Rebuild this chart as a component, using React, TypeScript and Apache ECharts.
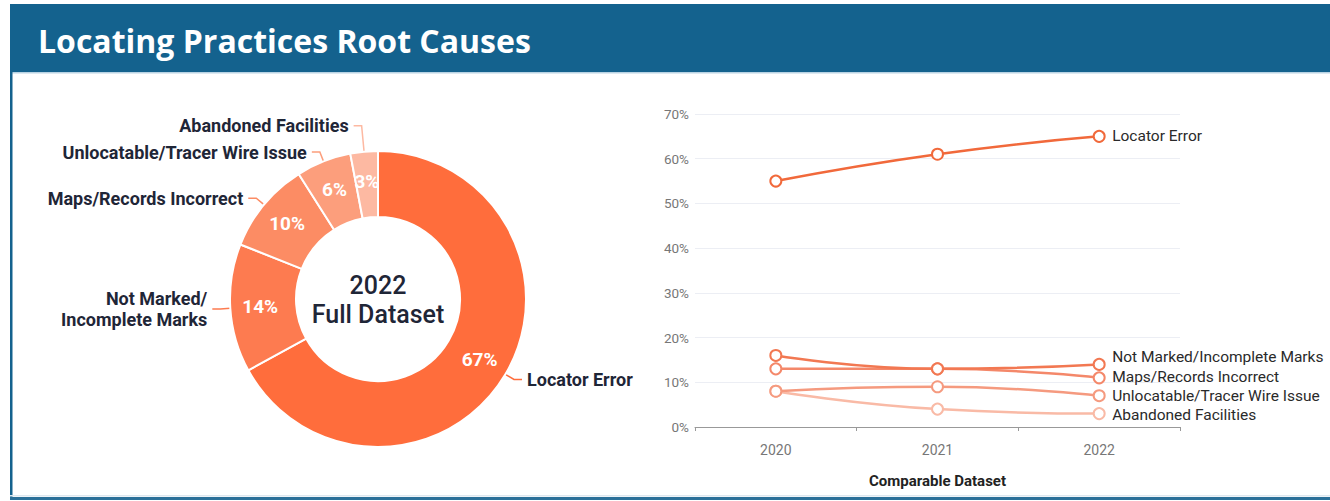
import React, { useEffect, useRef } from "react";
import * as echarts from "echarts";

const pieCategories = [
  "Locator Error",
  "Not Marked/\nIncomplete Marks",
  "Maps/Records Incorrect",
  "Unlocatable/Tracer Wire Issue",
  "Abandoned Facilities",
];
const pieValues = [67, 14, 10, 6, 3];
const pieColors = ["#ff6d3c", "#fd7b50", "#fc8c64", "#fc9e7c", "#fdb9a2"];

const years = ["2020", "2021", "2022"];
const lineNames = [
  "Locator Error",
  "Not Marked/Incomplete Marks",
  "Maps/Records Incorrect",
  "Unlocatable/Tracer Wire Issue",
  "Abandoned Facilities",
];
const locatorError = [55, 61, 65];
const notMarked = [16, 13, 14];
const mapsRecords = [13, 13, 11];
const unlocatable = [8, 9, 7];
const abandoned = [8, 4, 3];
const lineValues = [locatorError, notMarked, mapsRecords, unlocatable, abandoned];
const lineColors = ["#f1693b", "#f27852", "#f4886a", "#f59a7f", "#f9baa6"];
const endLabelShift = [0, -7, -1, 0, 1];

const title = "Locating Practices Root Causes";
const centerText = ["2022", "Full Dataset"];
const xAxisName = "Comparable Dataset";

const BLUE = "#14628e";
const DARK = "#1f2637";

export default function App() {
  const ref = useRef<HTMLDivElement>(null);
  useEffect(() => {
    if (!ref.current) return;
    const chart = echarts.init(ref.current, undefined, { renderer: "svg" });
    const labelLineLen: Record<number, number> = { 4: 26 };
    const pieData = pieCategories.map((name, i) => ({
      name,
      value: pieValues[i],
      itemStyle: { color: pieColors[i] },
      labelLine: { length: labelLineLen[i] ?? 10 },
    }));
    chart.setOption({
      animation: false,
      graphic: [
        { type: "rect", shape: { x: 10, y: 4, width: 1320, height: 68 }, style: { fill: BLUE }, silent: true },
        { type: "rect", shape: { x: 10, y: 72, width: 1320, height: 1.5 }, style: { fill: "#b9d3e3" }, silent: true },
        { type: "rect", shape: { x: 10, y: 4, width: 2.5, height: 496 }, style: { fill: BLUE }, silent: true },
        { type: "rect", shape: { x: 10, y: 495, width: 1320, height: 1.5 }, style: { fill: "#dde8ef" }, silent: true },
        { type: "rect", shape: { x: 10, y: 497, width: 1320, height: 3 }, style: { fill: "#2b7099" }, silent: true },
        {
          type: "text",
          x: 38,
          y: 40,
          style: {
            text: title,
            fill: "#ffffff",
            font: "bold 32px 'Open Sans'",
            textVerticalAlign: "middle",
          },
        },
        {
          type: "text",
          x: 378,
          y: 285,
          style: {
            text: centerText[0],
            fill: DARK,
            font: "500 25px Roboto",
            textAlign: "center",
            textVerticalAlign: "middle",
          },
        },
        {
          type: "text",
          x: 378,
          y: 314,
          style: {
            text: centerText[1],
            fill: DARK,
            font: "500 25px Roboto",
            textAlign: "center",
            textVerticalAlign: "middle",
          },
        },
      ],
      grid: { left: 695, right: 150, top: 114, bottom: 74 },
      xAxis: {
        type: "category",
        data: years,
        boundaryGap: true,
        name: xAxisName,
        nameLocation: "middle",
        nameGap: 46,
        nameTextStyle: { color: "#222", fontWeight: "bold", fontSize: 15, fontFamily: "Roboto" },
        axisLine: { lineStyle: { color: "#999", width: 1 } },
        axisTick: { show: true, length: 4, lineStyle: { color: "#999" } },
        axisLabel: { color: "#777", fontSize: 14, fontFamily: "Roboto", margin: 16 },
      },
      yAxis: {
        type: "value",
        min: 0,
        max: 70,
        interval: 10,
        axisLine: { show: false },
        axisTick: { show: false },
        axisLabel: { formatter: "{value}%", color: "#777", fontSize: 13.5, fontFamily: "Roboto", margin: 6 },
        splitLine: { lineStyle: { color: "#eceef4", width: 1 } },
      },
      series: [
        {
          type: "pie",
          center: [378, 299],
          radius: [82, 148],
          startAngle: 90,
          clockwise: true,
          silent: true,
          itemStyle: { borderColor: "#fff", borderWidth: 2 },
          label: {
            show: true,
            position: "outside",
            color: DARK,
            fontSize: 18,
            fontWeight: "bold",
            fontFamily: "Roboto",
            lineHeight: 21,
            formatter: "{b}",
          },
          labelLine: { show: true, length: 10, length2: 8, smooth: false, lineStyle: { width: 1.5 } },
          data: pieData,
        },
        {
          type: "pie",
          center: [378, 299],
          radius: [82, 148],
          startAngle: 90,
          clockwise: true,
          silent: true,
          itemStyle: { color: "rgba(0,0,0,0)", borderWidth: 0 },
          label: {
            show: true,
            position: "inside",
            color: "#fff",
            fontSize: 19,
            fontWeight: "bold",
            fontFamily: "Roboto",
            formatter: "{c}%",
          },
          labelLine: { show: false },
          data: pieCategories.map((name, i) => ({ name, value: pieValues[i] })),
        },
        ...lineNames.map((name, i) => ({
          type: "line",
          name,
          data: lineValues[i],
          smooth: true,
          symbol: "emptyCircle",
          symbolSize: 11,
          lineStyle: { color: lineColors[i], width: 2.5 },
          itemStyle: { color: lineColors[i], borderWidth: 1.5 },
          endLabel: {
            show: true,
            formatter: "{a}",
            color: "#2a2a2a",
            fontSize: 15.5,
            fontFamily: "Roboto",
            distance: 13,
            offset: [0, endLabelShift[i]],
          },
          z: 10 - i,
        })),
      ],
    });
    return () => chart.dispose();
  }, []);
  return (
    <div
      ref={ref}
      style={{ position: "fixed", left: 0, top: 0, width: 1330, height: 501, background: "#fff" }}
    />
  );
}
